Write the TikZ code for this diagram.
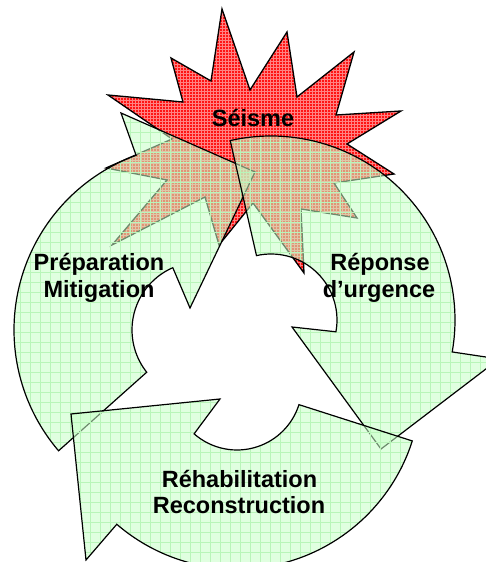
\documentclass[tikz,border=0pt]{standalone}
\usepackage{fontspec}
\setmainfont{Liberation Sans}
\usetikzlibrary{calc,patterns,patterns.meta}
\definecolor{starred}{RGB}{255,20,20}
\definecolor{stargrid}{RGB}{255,130,130}
\definecolor{arrowgreen}{RGB}{200,255,200}
\definecolor{gridgreen}{RGB}{185,245,185}
\tikzset{
  quake/.style={draw=black, line width=1.3pt, preaction={fill=starred}, pattern=grid, pattern color=stargrid},
  cyclearrow/.style={draw=black, line width=1.2pt,
    preaction={fill=arrowgreen, fill opacity=0.55},
    preaction={pattern={Lines[angle=0,distance=10pt,line width=0.4pt]}, pattern color=gridgreen, fill opacity=0.3},
    preaction={pattern={Lines[angle=90,distance=10pt,line width=0.4pt]}, pattern color=gridgreen, fill opacity=0.3}},
  lbl/.style={font=\fontsize{23.5}{27}\selectfont\bfseries, anchor=base, inner sep=0pt},
}
\begin{document}
\begin{tikzpicture}[x=1pt,y=1pt]
\useasboundingbox (0,0) rectangle (486,562);
\fill[white] (0,0) rectangle (486,562);
\clip (0,0) rectangle (486,562);
% earthquake star
\path[quake] (222,553) -- (250,472) -- (287,530) -- (297,465) -- (354,510) -- (336,447)
  -- (401,451) -- (347,418) -- (394,388) -- (334,379) -- (357,344) -- (301,353)
  -- (304,289) -- (253,359) -- (219,317) -- (205,365) -- (112,317) -- (167,382)
  -- (106,394) -- (172,423) -- (108,467) -- (183,460) -- (171,504) -- (211,481) -- cycle;
% Preparation arrow (left)
\path[cyclearrow] ($(200,232)+(220.5:186)$) arc[start angle=220.5, end angle=110.1, radius=186]
  -- (121,449) -- (255,390) -- (190,254)
  -- ($(200,232)+(113.6:68)$) arc[start angle=113.6, end angle=218.4, radius=68] -- cycle;
% Reponse arrow (right)
\path[cyclearrow] ($(271,242)+(102.8:184)$) arc[start angle=102.8, end angle=-10, radius=184]
  -- (499,203) -- (381,113) -- (292,235)
  -- ($(271,242)+(-10.3:66)$) arc[start angle=-10.3, end angle=102.7, radius=66] -- cycle;
% Rehabilitation arrow (bottom)
\path[cyclearrow] ($(237,177)+(-17.7:184)$) arc[start angle=-17.7, end angle=-130.8, radius=184]
  -- (86,2) -- (71,148) -- (220,163)
  -- ($(237,177)+(-131.3:65)$) arc[start angle=-131.3, end angle=-17.6, radius=65] -- cycle;
% labels
\node[lbl] (seisme) at (253,435) {Séisme};
\node[lbl] (prep1) at (99,291) {Préparation};
\node[lbl] (prep2) at (99,264) {Mitigation};
\node[lbl] (rep1) at (380,291) {Réponse};
\node[lbl] (rep2) at (379,264) {d’urgence};
\node[lbl] (reh1) at (239.5,74) {Réhabilitation};
\node[lbl] (reh2) at (239,48) {Reconstruction};
\end{tikzpicture}
\end{document}
